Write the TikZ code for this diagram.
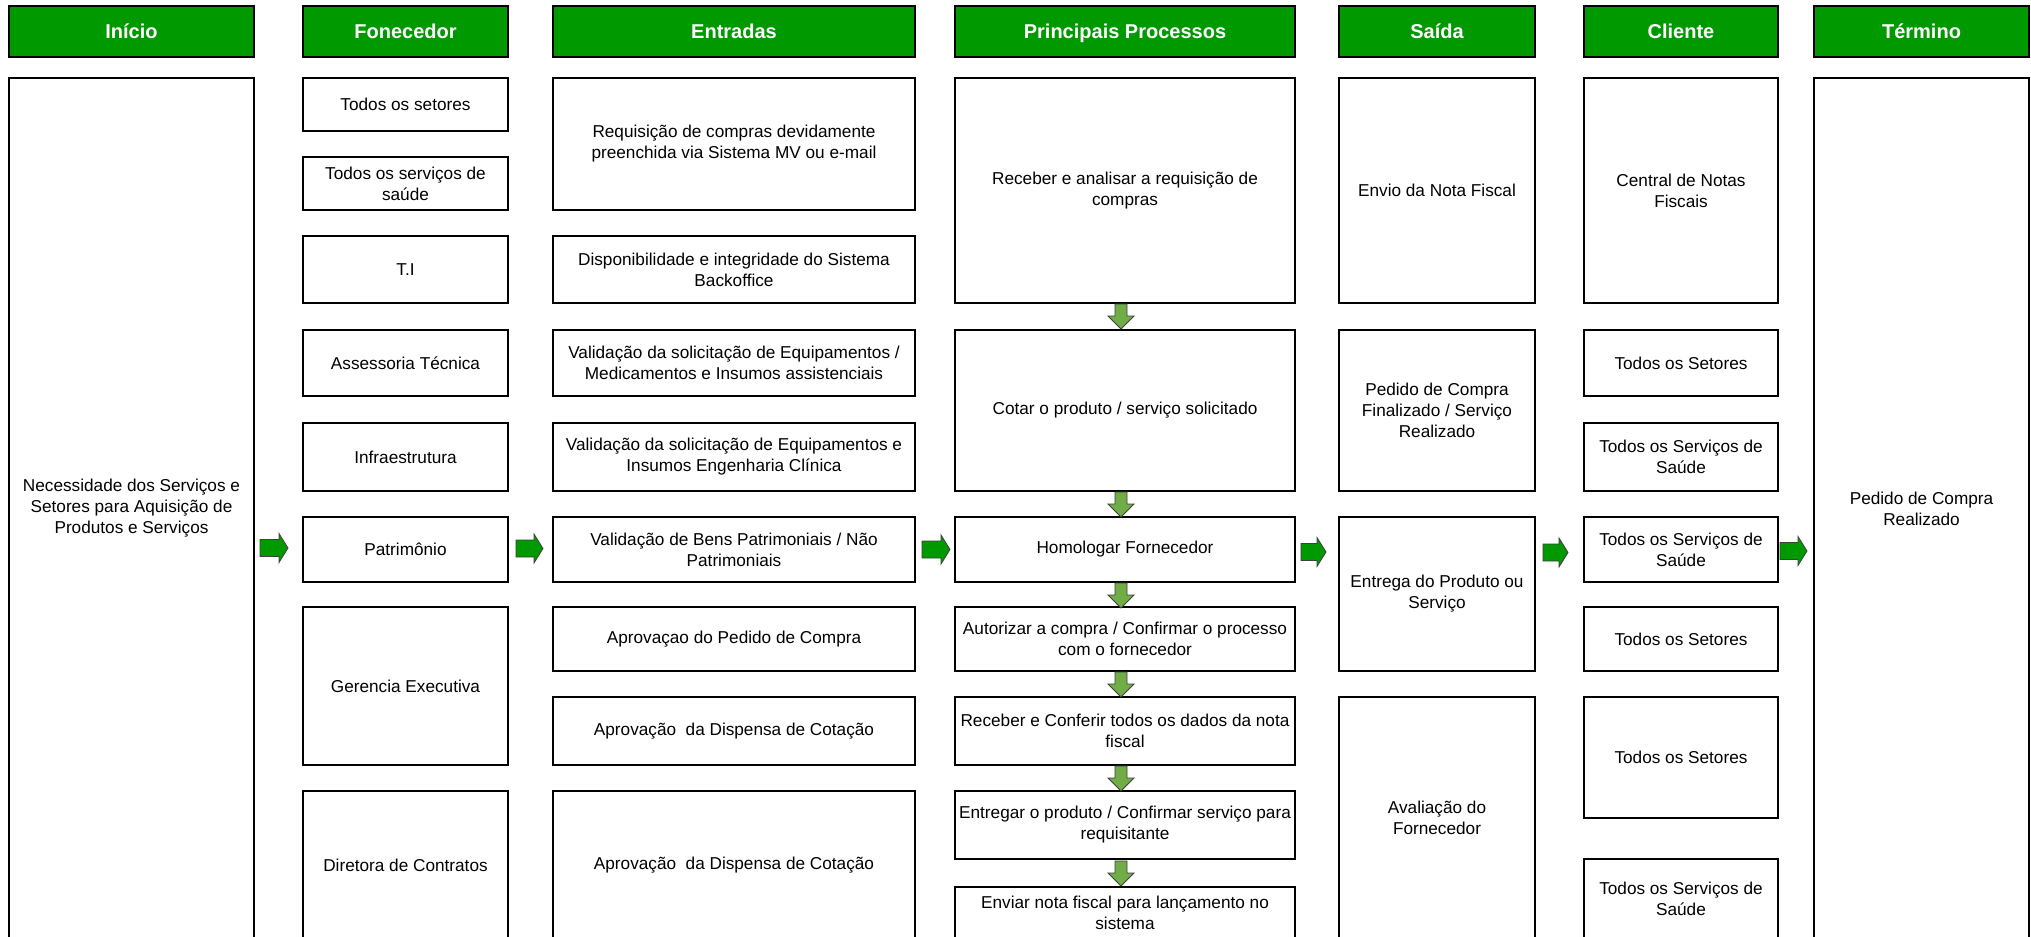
\documentclass[tikz,border=0pt]{standalone}
\usepackage{fontspec}
\setmainfont{Liberation Sans}
\usetikzlibrary{calc}
\definecolor{hdrgreen}{RGB}{0,153,0}
\definecolor{arrgreen}{RGB}{0,153,0}
\definecolor{downgreen}{RGB}{112,173,71}
\newcommand{\rarr}[2]{\draw[rarrow] #1 ++(0,-8.5) -- ++(#2,0) -- ++(0,-6) -- ++(9,14.5) -- ++(-9,14.5) -- ++(0,-6) -- ++(-#2,0) -- cycle;}
\newcommand{\darr}[1]{\draw[darrow] #1 ++(-6,0) -- ++(0,12) -- ++(-7,0) -- ++(13,13) -- ++(13,-13) -- ++(-7,0) -- ++(0,-12) -- cycle;}
\begin{document}
\begin{tikzpicture}[x=1bp,y=-1bp,
  rect/.style n args={4}{minimum width={(#3-#1)*1bp}, minimum height={(#4-#2)*1bp}, at={({(#1+#3)/2},{(#2+#4)/2})}},
  box/.style={draw=black, line width=2bp, fill=white, align=center, inner sep=0pt, text=black,
    font=\fontsize{17.2bp}{21bp}\selectfont},
  hdr/.style={draw=black, line width=2bp, fill=hdrgreen, inner sep=0pt, text=white,
    text height=14.3bp, text depth=0pt,
    font=\fontsize{20bp}{24bp}\selectfont\bfseries},
  rarrow/.style={draw=black!75, line width=0.8bp, fill=arrgreen},
  darrow/.style={draw=black!75, line width=0.8bp, fill=downgreen}]
\useasboundingbox (0,0) rectangle (2031,937);
\clip (0,0) rectangle (2031,937);
\fill[white] (0,0) rectangle (2031,937);

% headers
\node[hdr, rect={9}{6}{254}{57}] (h1) {Início};
\node[hdr, rect={303}{6}{508}{57}] (h2) {Fonecedor};
\node[hdr, rect={553}{6}{915}{57}] (h3) {Entradas};
\node[hdr, rect={955}{6}{1295}{57}] (h4) {Principais Processos};
\node[hdr, rect={1339}{6}{1535}{57}] (h5) {Saída};
\node[hdr, rect={1584}{6}{1778}{57}] (h6) {Cliente};
\node[hdr, rect={1814}{6}{2029}{57}] (h7) {Término};

% Inicio
\node[box, rect={9}{78}{254}{939}] (inicio) {Necessidade dos Serviços e\\Setores para Aquisição de\\Produtos e Serviços};

% Fornecedor
\node[box, rect={303}{78}{508}{131}] (f1) {Todos os setores};
\node[box, rect={303}{157}{508}{210}] (f2) {Todos os serviços de\\saúde};
\node[box, rect={303}{236}{508}{303}] (f3) {T.I};
\node[box, rect={303}{330}{508}{396}] (f4) {Assessoria Técnica};
\node[box, rect={303}{423}{508}{491}] (f5) {Infraestrutura};
\node[box, rect={303}{517}{508}{582}] (f6) {Patrimônio};
\node[box, rect={303}{607}{508}{765}] (f7) {Gerencia Executiva};
\node[box, rect={303}{791}{508}{939}] (f8) {Diretora de Contratos};

% Entradas
\node[box, rect={553}{78}{915}{210}] (e1) {Requisição de compras devidamente\\preenchida via Sistema MV ou e-mail};
\node[box, rect={553}{236}{915}{303}] (e2) {Disponibilidade e integridade do Sistema\\Backoffice};
\node[box, rect={553}{330}{915}{396}] (e3) {Validação da solicitação de Equipamentos /\\Medicamentos e Insumos assistenciais};
\node[box, rect={553}{423}{915}{491}] (e4) {Validação da solicitação de Equipamentos e\\Insumos Engenharia Clínica};
\node[box, rect={553}{517}{915}{582}] (e5) {Validação de Bens Patrimoniais / Não\\Patrimoniais};
\node[box, rect={553}{607}{915}{671}] (e6) {Aprovaçao do Pedido de Compra};
\node[box, rect={553}{697}{915}{765}] (e7) {Aprovação\ \ da Dispensa de Cotação};
\node[box, rect={553}{791}{915}{939}] (e8) {Aprovação\ \ da Dispensa de Cotação};

% Processos
\node[box, rect={955}{78}{1295}{303}] (p1) {Receber e analisar a requisição de\\compras};
\node[box, rect={955}{330}{1295}{491}] (p2) {Cotar o produto / serviço solicitado};
\node[box, rect={955}{517}{1295}{582}] (p3) {Homologar Fornecedor};
\node[box, rect={955}{607}{1295}{671}] (p4) {Autorizar a compra / Confirmar o processo\\com o fornecedor};
\node[box, rect={955}{697}{1295}{765}] (p5) {Receber e Conferir todos os dados da nota\\fiscal};
\node[box, rect={955}{791}{1295}{859}] (p6) {Entregar o produto / Confirmar serviço para\\requisitante};
\node[box, rect={955}{887}{1295}{939}] (p7) {Enviar nota fiscal para lançamento no\\sistema};

% Saida
\node[box, rect={1339}{78}{1535}{303}] (s1) {Envio da Nota Fiscal};
\node[box, rect={1339}{330}{1535}{491}] (s2) {Pedido de Compra\\Finalizado / Serviço\\Realizado};
\node[box, rect={1339}{517}{1535}{671}] (s3) {Entrega do Produto ou\\Serviço};
\node[box, rect={1339}{697}{1535}{939}] (s4) {Avaliação do\\Fornecedor};

% Cliente
\node[box, rect={1584}{78}{1778}{303}] (c1) {Central de Notas\\Fiscais};
\node[box, rect={1584}{330}{1778}{396}] (c2) {Todos os Setores};
\node[box, rect={1584}{423}{1778}{491}] (c3) {Todos os Serviços de\\Saúde};
\node[box, rect={1584}{517}{1778}{582}] (c4) {Todos os Serviços de\\Saúde};
\node[box, rect={1584}{607}{1778}{671}] (c5) {Todos os Setores};
\node[box, rect={1584}{697}{1778}{818}] (c6) {Todos os Setores};
\node[box, rect={1584}{859}{1778}{939}] (c7) {Todos os Serviços de\\Saúde};

% Termino
\node[box, rect={1814}{78}{2029}{939}] (termino) {Pedido de Compra\\Realizado};

% right block arrows
\rarr{($(inicio.east |- f6.center)+(5,-1.5)$)}{19}
\rarr{($(f6.east)+(7,-1)$)}{18}
\rarr{($(e5.east)+(6,0)$)}{19}
\rarr{($(p3.east)+(5,2.5)$)}{16}
\rarr{($(s3.east |- p3.center)+(7,3)$)}{16}
\rarr{($(c4.east)+(1,1.5)$)}{18}

% down block arrows
\darr{($(p1.south)+(-4,0)$)}
\darr{($(p2.south)+(-4,0)$)}
\darr{($(p3.south)+(-4,0)$)}
\darr{($(p4.south)+(-4,0)$)}
\darr{($(p5.south)+(-4,0)$)}
\darr{($(p6.south)+(-4,1)$)}
\end{tikzpicture}
\end{document}
